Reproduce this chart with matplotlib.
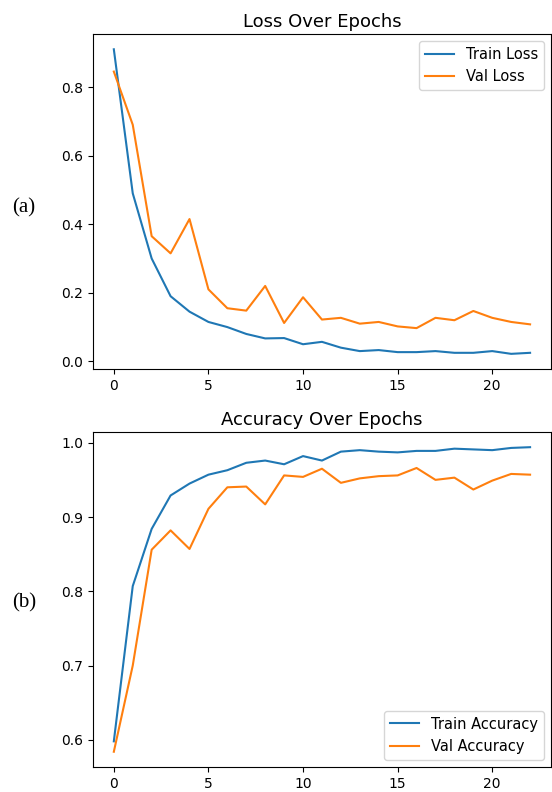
import matplotlib.pyplot as plt

epochs = list(range(23))

train_loss = [0.91, 0.49, 0.30, 0.19, 0.145, 0.115, 0.100, 0.080, 0.067, 0.068, 0.050, 0.057,
              0.040, 0.030, 0.033, 0.027, 0.027, 0.030, 0.025, 0.025, 0.030, 0.022, 0.025]
val_loss = [0.845, 0.69, 0.365, 0.315, 0.415, 0.21, 0.155, 0.148, 0.22, 0.112, 0.187, 0.122,
            0.127, 0.110, 0.115, 0.102, 0.097, 0.127, 0.120, 0.147, 0.127, 0.115, 0.108]

train_acc = [0.598, 0.807, 0.884, 0.929, 0.945, 0.957, 0.963, 0.973, 0.976, 0.971, 0.982, 0.976,
             0.988, 0.990, 0.988, 0.987, 0.989, 0.989, 0.992, 0.991, 0.990, 0.993, 0.994]
val_acc = [0.584, 0.700, 0.856, 0.882, 0.857, 0.911, 0.940, 0.941, 0.917, 0.956, 0.954, 0.965,
           0.946, 0.952, 0.955, 0.956, 0.966, 0.950, 0.953, 0.937, 0.949, 0.958, 0.957]

xticks = [0, 5, 10, 15, 20]

fig = plt.figure(figsize=(5.52, 7.92), dpi=100)

ax1 = fig.add_axes([0.1685, 0.534, 0.8295, 0.423])
ax1.plot(epochs, train_loss, label="Train Loss")
ax1.plot(epochs, val_loss, label="Val Loss")
ax1.set_title("Loss Over Epochs", fontsize=13, pad=5)
ax1.legend(loc="upper right", fontsize=10.5)
ax1.tick_params(labelsize=10)
ax1.set_xticks(xticks)

ax2 = fig.add_axes([0.1685, 0.0316, 0.8295, 0.423])
ax2.plot(epochs, train_acc, label="Train Accuracy")
ax2.plot(epochs, val_acc, label="Val Accuracy")
ax2.set_title("Accuracy Over Epochs", fontsize=13, pad=5)
ax2.legend(loc="lower right", fontsize=10.5)
ax2.tick_params(labelsize=10)
ax2.set_xticks(xticks)

fig.text(0.022, 0.737, "(a)", family="Liberation Serif", fontsize=15, va="center")
fig.text(0.022, 0.239, "(b)", family="Liberation Serif", fontsize=15, va="center")

fig.savefig("out.png", dpi=100)
